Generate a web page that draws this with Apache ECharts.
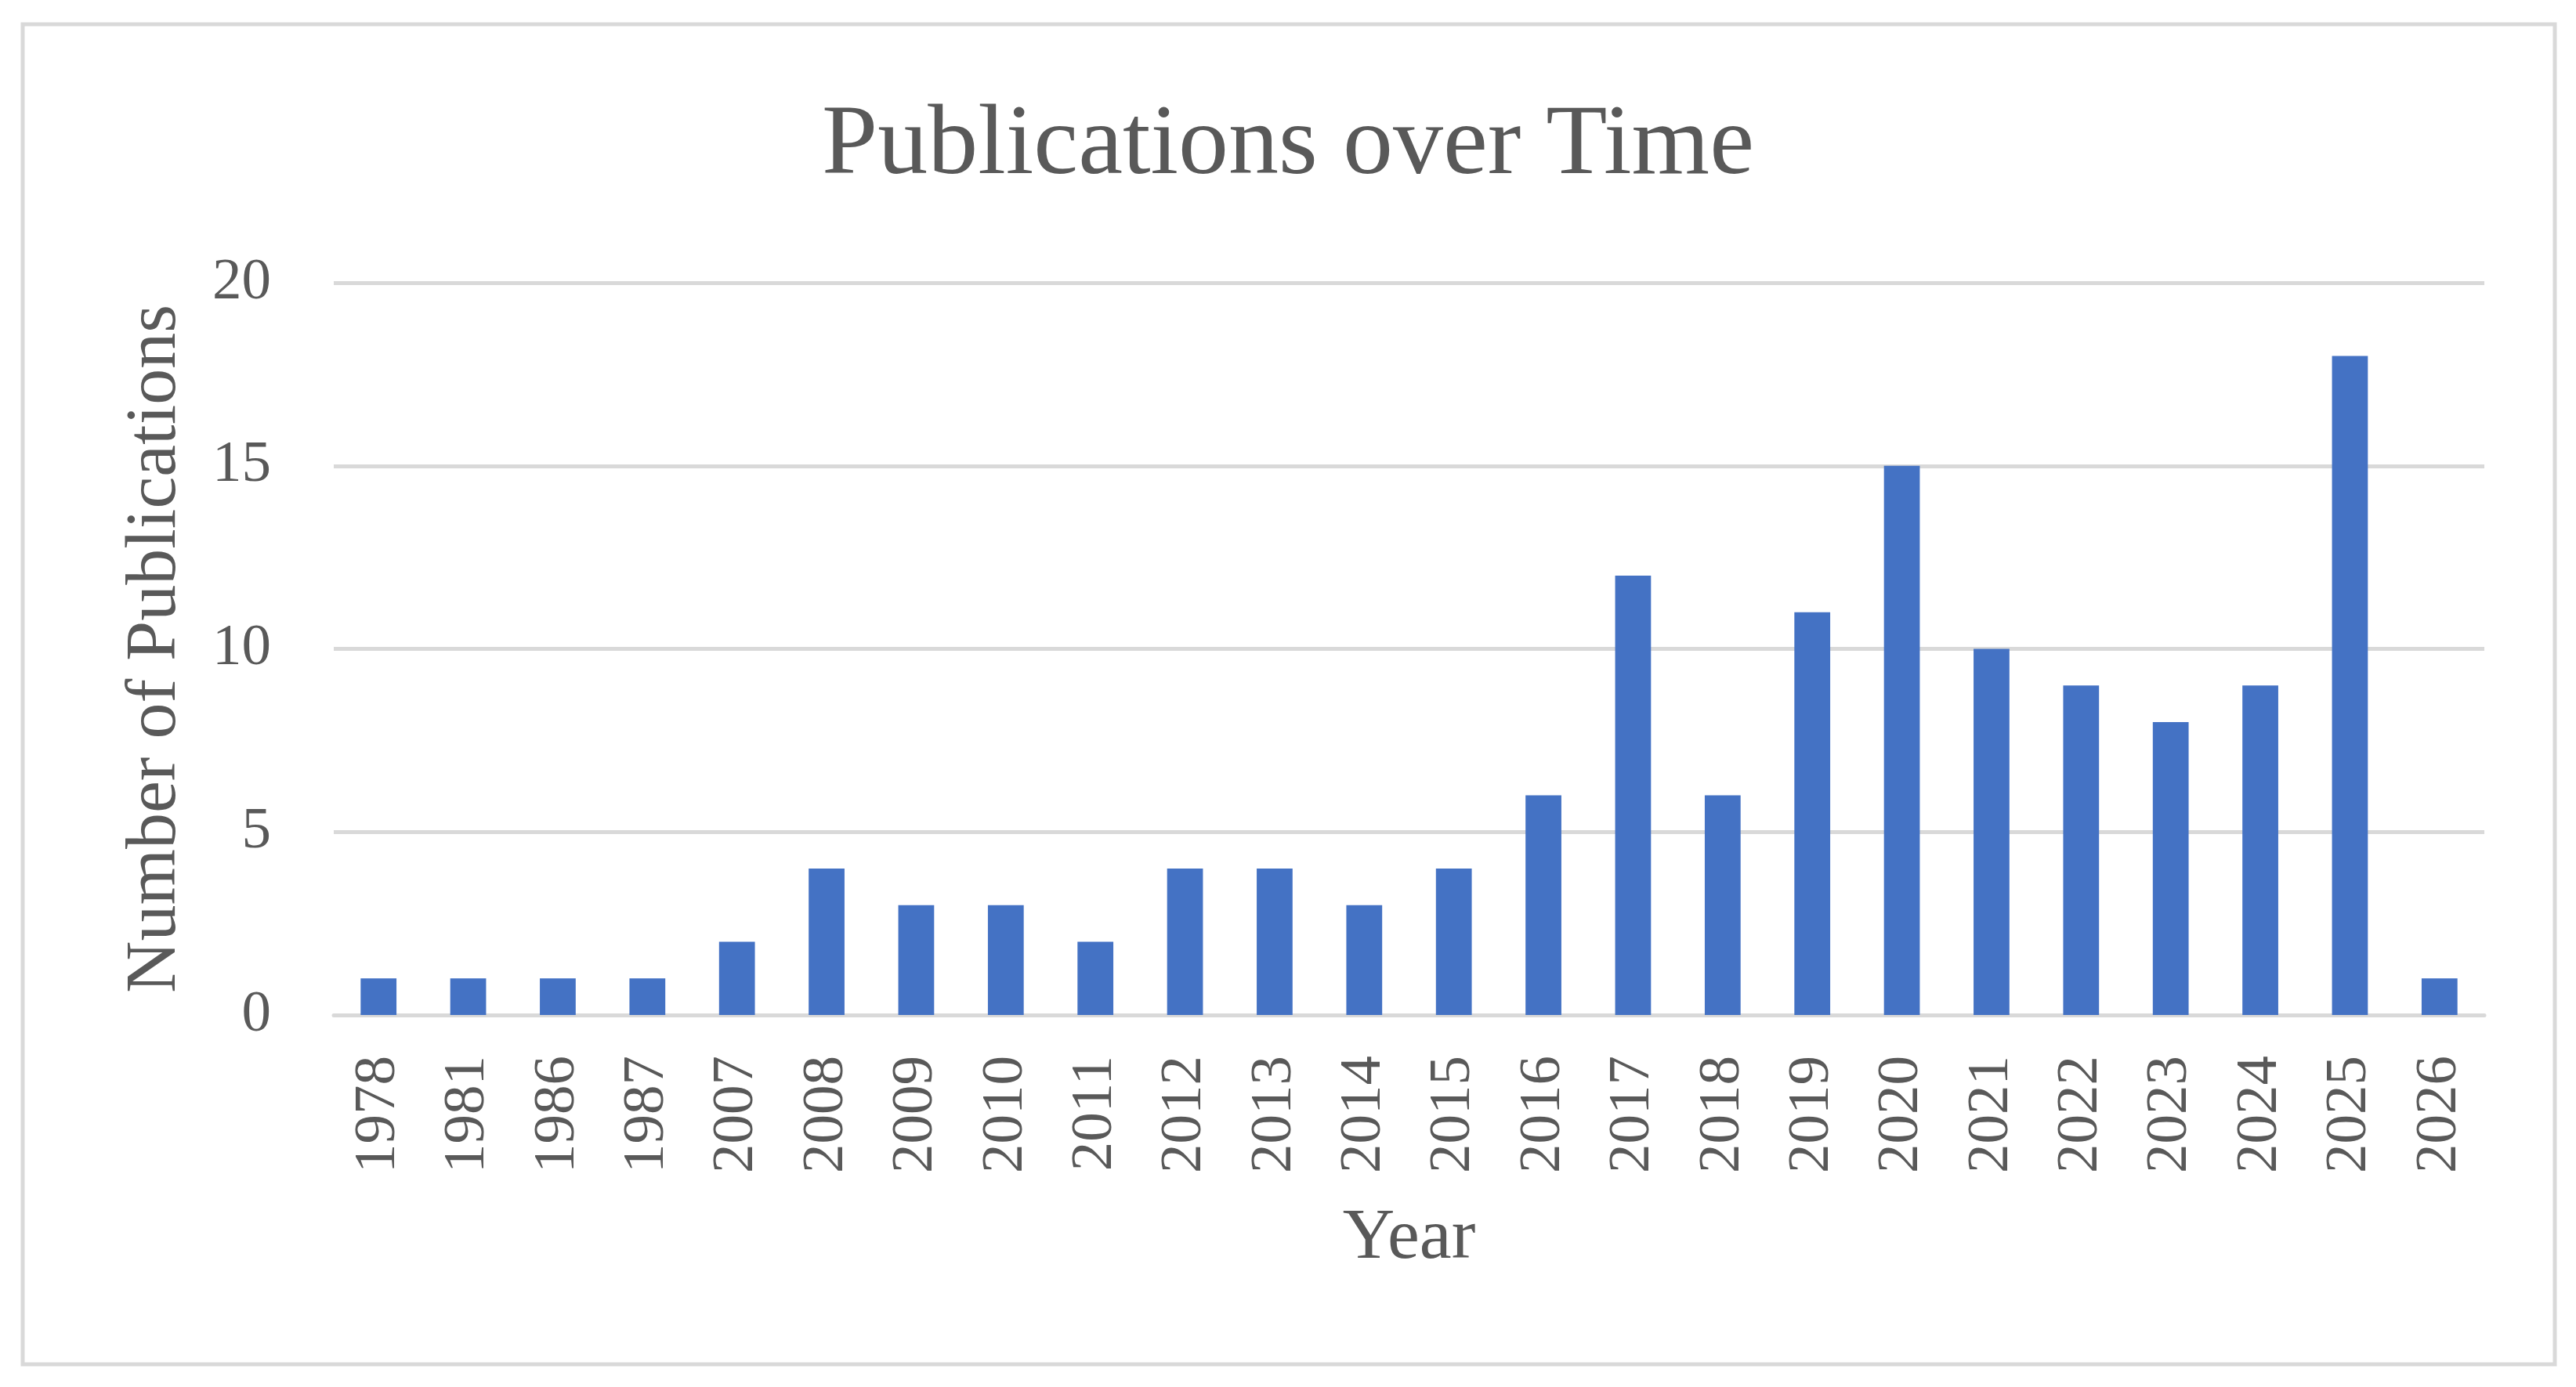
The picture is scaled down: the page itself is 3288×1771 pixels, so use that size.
<!DOCTYPE html>
<html>
<head>
<meta charset="utf-8">
<title>Publications over Time</title>
<script src="https://cdn.jsdelivr.net/npm/echarts@6/dist/echarts.min.js"></script>
<style>
    html, body { margin: 0; padding: 0; background: #fff; }
    #chart { width: 3288px; height: 1771px; }
</style>
</head>
<body>
<div id="chart"></div>
<script>
// 数据
const years = ['1978', '1981', '1986', '1987', '2007', '2008', '2009', '2010', '2011', '2012', '2013', '2014',
    '2015', '2016', '2017', '2018', '2019', '2020', '2021', '2022', '2023', '2024', '2025', '2026']
const publications = [1, 1, 1, 1, 2, 4, 3, 3, 2, 4, 4, 3, 4, 6, 12, 6, 11, 15, 10, 9, 8, 9, 18, 1]

const textColor = '#595959'
const lineColor = '#D9D9D9'
const fontFamily = 'Liberation Serif'

const option = {
    animation: false,
    backgroundColor: '#fff',
    title: {
        text: 'Publications over Time',
        left: 'center',
        top: 118,
        textStyle: {
            color: textColor,
            fontFamily: fontFamily,
            fontSize: 128,
            fontWeight: 'normal'
        }
    },
    // 外框
    graphic: [{
        type: 'rect',
        shape: { x: 29, y: 31, width: 3232, height: 1711 },
        style: { fill: 'none', stroke: lineColor, lineWidth: 5 }
    }],
    grid: {
        left: 426,
        right: 117,
        top: 361,
        bottom: 475
    },
    xAxis: {
        type: 'category',
        data: years,
        name: 'Year',
        nameLocation: 'middle',
        nameGap: 240,
        nameTextStyle: {
            color: textColor,
            fontFamily: fontFamily,
            fontSize: 92
        },
        axisLine: { lineStyle: { color: lineColor, width: 5 } },
        axisTick: { show: false },
        axisLabel: {
            rotate: 90,
            margin: 52,
            color: textColor,
            fontFamily: fontFamily,
            fontSize: 75
        }
    },
    yAxis: {
        type: 'value',
        min: 0,
        max: 20,
        interval: 5,
        name: 'Number of Publications',
        nameLocation: 'middle',
        nameGap: 181,
        nameTextStyle: {
            color: textColor,
            fontFamily: fontFamily,
            fontSize: 92
        },
        axisLine: { show: false },
        axisTick: { show: false },
        axisLabel: {
            margin: 80,
            color: textColor,
            fontFamily: fontFamily,
            fontSize: 75
        },
        splitLine: { lineStyle: { color: lineColor, width: 5 } }
    },
    series: [{
        type: 'bar',
        data: publications,
        barCategoryGap: '60%',
        itemStyle: { color: '#4472C4' }
    }]
}

const chart = echarts.init(document.getElementById('chart'))
chart.setOption(option)
</script>
</body>
</html>
